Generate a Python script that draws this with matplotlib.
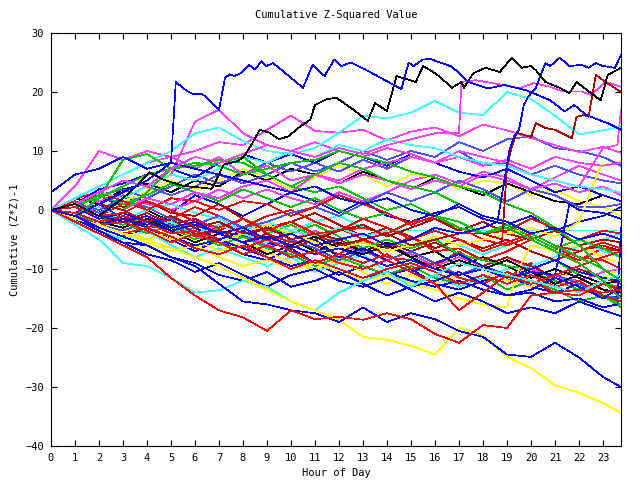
import matplotlib
matplotlib.use('Agg')
import matplotlib.pyplot as plt

# hourly samples, last one is the final quarter hour
hours = list(range(24)) + [23.75]

RED = '#ff0000'
GREEN = '#00c000'
BLUE = '#0000ff'
MAG = '#ff40ff'
CYAN = '#40ffff'
DRED = '#b00000'
YEL = '#ffff00'
BLK = '#000000'
LBLUE = '#5050ff'

# outliers, read at a finer time step
blue_top_t = [0, 1, 2, 3, 4, 5, 5.2, 5.65, 5.9, 6.3, 7.0, 7.25, 7.45, 7.65, 7.9, 8.25, 8.5, 8.76, 8.97,
              9.25, 9.5, 10.5, 10.9, 11.4, 11.8, 12.1, 12.5, 13.1, 13.6, 14.6, 14.9, 15.1, 15.5, 15.8,
              16.7, 17.4, 18.2, 18.9, 19.8, 20.8, 21.4, 21.8, 22.3, 23.2, 23.75]
blue_top = [0, -1, 1, 3, 5, 8, 21.7, 20.2, 19.7, 19.7, 17, 22.4, 23, 22.7, 23.2, 24.6, 23.8, 25.2, 24.4,
            24.9, 24.1, 20.7, 24.6, 22.7, 25.5, 24.4, 25, 23.8, 22.7, 20.5, 25, 24.4, 25.5, 25.6,
            24.3, 21.7, 20.6, 21.2, 20.3, 18.6, 16.7, 17.8, 16.1, 14.7, 13.6]
black_top_t = [0, 1, 2, 3, 3.6, 4.1, 4.7, 5.5, 6.7, 7.2, 7.8, 8.07, 8.4, 8.7, 9.1, 9.5, 9.9, 10.3, 10.8,
               11.0, 11.5, 11.9, 12.6, 13.2, 13.5, 14.0, 14.4, 15.2, 15.5, 15.8, 16.2, 16.7, 17.1, 17.2,
               17.6, 18.1, 18.7, 19.2, 19.6, 20.0, 20.2, 20.6, 21.2, 21.6, 21.9, 22.5, 22.9, 23.2, 23.75]
black_top = [0, 1, -1, 2, 4.2, 6.4, 5.1, 4.1, 3.6, 7.7, 8.3, 9.2, 11.4, 13.6, 13.1, 12, 12.5, 13.9, 15.3,
             17.8, 18.8, 19, 17, 15.1, 18.1, 16.8, 22.7, 21.7, 24.4, 23.7, 22.6, 20.7, 21.7, 20.7,
             23.2, 24.1, 23.4, 25.8, 24.1, 24.4, 23.7, 21.7, 20.7, 19.8, 21.7, 19.8, 18.6, 22.9, 24.1]
blue_rise_t = list(range(19)) + [18.6, 19.1, 19.3, 19.5, 19.7, 19.9, 20.2, 20.6, 20.8, 21.2, 21.6,
                                 22.1, 22.4, 22.7, 23.0, 23.5, 23.75]
blue_rise = [0, 1, -1, -2, -1, -3, -2, -4, -3, -5, -4, -6, -5, -4, -6, -5, -3, -4, -3,
             -2, 10.2, 12.5, 13.6, 17.8, 19.3, 20.7, 24.9, 24.4, 25.8, 24.4, 24.6, 24.1, 24.9, 24.4,
             24.1, 26.3]
dred_rise_t = list(range(19)) + [18.8, 19.0, 19.2, 19.4, 20, 20.2, 20.6, 21, 21.7, 21.9, 22.2, 22.4,
                                 22.7, 23.1, 23.75]
dred_rise = [0, -1, 1, 0, -2, -1, -3, -2, -4, -3, -5, -4, -6, -5, -4, -6, -5, -4, -4,
             -5, 7.3, 10.7, 13.1, 12.4, 14.7, 13.9, 13.6, 12.2, 15.8, 16.1, 15.8, 22.9, 21.7, 20]
mag_jump_t = list(range(17)) + [17.0, 17.1, 17.7, 18.8, 19.5, 20.1, 20.8, 21.3, 22.1, 22.5, 23.1, 23.75]
mag_jump = [0, 1, 3, 5, 4, 7, 9, 8, 9.5, 11, 10, 9, 10.5, 9.5, 11, 12, 13,
            13, 21.7, 22, 21.2, 20.6, 21.5, 20.9, 20.1, 20.1, 19.5, 21.7, 20.9]
yel_2_t = list(range(23)) + [22.9, 23.2, 23.75]
yel_2 = [0, -1, -2.5, -2, -3.5, -5, -4, -5.5, -4, -2.5, -4, -5.5, -6.5, -5.5, -7, -6, -4.5, -6, -5, -4,
         -3, -4.5, -2, 7.5, 7.8, 8.3]
mag_edge_t = list(range(24)) + [23.6, 23.75]
mag_edge = [0, -1, 1, 0, 2, 1, 3, 2, 4, 5, 3, 6, 5, 7, 8, 9, 8, 10, 9, 8, 6, 5, 4, 10.5, 11, 17]
blue_4_t = list(range(24)) + [23.6, 23.75]
blue_4 = [0, -1, -2.5, -1.5, -3, -4.5, -6, -5, -6.5, -8, -9.5, -8.5, -10, -11.5, -10.5, -12, -13, -12,
          -13.5, -14.5, -14, -15.5, -15, -16.5, -16, -3]
blue_5_t = list(range(22)) + [21.6, 22, 23, 23.75]
blue_5 = [0, 0.5, -1.5, -0.5, -2, -3.5, -2.5, -4, -5.5, -4.5, -6, -7.5, -6.5, -8, -9.5, -8.5, -10, -11,
          -10, -11.5, -10.5, -11, 1, 0, -0.5, -1.5]
yel_3_t = list(range(20)) + [19.2, 19.6, 20, 21, 22, 23, 23.75]
yel_3 = [0, -1.5, -2.5, -4, -5.5, -7, -6, -8, -9.5, -8.5, -10, -9, -10.5, -12, -11, -12.5, -13.5, -15,
         -16, -16.5, -13.6, -9, -6, -7, -6, -8, -9]

cyan_top = [0, 2, 4, 6, 8, 10, 13, 14, 11.7, 10, 9.5, 10.5, 13.1, 16, 15.5, 16.5, 18.5, 16.5, 16.1, 20, 18.8, 16, 12.8, 13.5, 14.1]
cyan_mid = [0, 1, 3, 2, 4, 6, 5, 7, 9, 8, 10, 9, 11, 10, 12, 11, 10.5, 9, 8, 7.5, 6, 5, 4, 3.5, 3]
mag_high = [0, 2, 4, 6, 8, 9, 10, 11.5, 11, 13.6, 16, 13.4, 13.1, 13.6, 11.8, 13.3, 14, 12.5, 14.5, 13.5, 12.2, 11, 9.8, 10.7, 9.7]
mag_early = [0, 4, 10, 8.5, 10, 9, 7, 9, 6, 7.5, 5, 6, 4.5, 6, 5, 3.5, 5, 4, 6, 5, 3.5, 4.5, 3, 4, 2.5]
mag_peak = [0, 1, 3, 2, 4, 6, 15, 17, 13, 11, 10, 11.5, 10, 9, 10.5, 9.5, 8, 9, 7.5, 8.5, 7, 9, 8, 7.5, 8]
green_a = [0, -1, 2, 8.5, 9.5, 7, 7.5, 8.5, 8, 6, 4, 6, 8, 7, 5, 4, 3, 1, -1, -2, -4, -6, -8, -10, -12]
green_b = [0, 1, 2, 4, 6, 7, 8, 7.5, 6, 7, 8, 8.5, 10, 9, 8, 6.5, 5.5, 4, 3, 1, -0.5, -3, -6, -10, -12]
green_c = [0, -1, 1, 0, 3, 7, 7.5, 8, 9, 6, 4, 3, 4, 2, 0, 1, -1, -2, -4, -3, -5, -7, -9, -12, -15]
blue_early = [3, 6, 7, 9, 7, 8, 7, 6, 5, 4, 3, 4, 2, 1, 2, 0, -1, 1, -1, -2, -4, -3, -5, -4, -5]
yellow_low = [0, -1.5, -2.5, -4, -5, -6.5, -8, -9.5, -11.5, -13.5, -15.5, -17, -18.6, -21.5, -22, -23, -24.5, -20, -21.2, -24.9, -26.8, -29.7, -31, -32.7, -34.4]
blue_low = [0, -1, -3, -4.5, -6, -8, -9.5, -12.5, -15.5, -16, -17, -17.5, -19, -16.5, -19, -17.5, -18.5, -20.5, -21.5, -24.5, -24.9, -22.5, -25, -28.3, -30]
red_low = [0, -2, -4, -6, -8, -11.5, -14.5, -17, -18.2, -20.5, -17, -18.5, -18.1, -18.6, -17.5, -18.5, -21, -22.5, -19.5, -20, -14.5, -14, -13.5, -14, -13.5]
cyan_low = [0, -2.5, -5, -9, -9.5, -11.5, -14, -13.6, -12, -13, -15.5, -17, -14, -12, -10.5, -13, -11, -9, -10, -11, -12, -13, -14, -12, -11]

# bundle
red_1 = [0, 1.5, -0.5, -2, -1, -3.5, -4, -2.5, -3, -5.5, -4, -6, -7.5, -5, -8, -8.5, -9.5, -7, -10, -11.5, -9, -12, -13.5, -12, -14]
red_2 = [0, -1, 0.5, -1.5, -3, -2.5, -4.5, -3.5, -1.5, -4, -5.5, -5, -3, -5, -6.5, -4.5, -7, -6.5, -8.5, -7, -5, -7, -8.5, -6.5, -7]
red_3 = [0, 0.5, -1, 1, 0.5, -1.5, 0.5, -1, -3, -1, 0, -2, -3.5, -3, -4, -2, -1.5, -3, -5, -6, -4.5, -6.5, -8, -8.5, -10]
red_4 = [0, -0.5, -2, -1, -2, -4, -3.5, -5, -6.5, -5, -7, -9, -7.5, -9, -7.5, -10, -9, -11.5, -12.5, -10.5, -12, -14, -14.5, -12.5, -13.5]
red_5 = [0, -1, -2.5, -4, -3, -4.5, -6.5, -7.5, -6, -8, -10, -8.5, -10, -11.5, -10, -9, -10.5, -12.5, -11, -12.5, -11, -13, -12, -14.5, -15.5]
red_6 = [0, 2, 3, 1.5, 0, 2, 1.5, 0, 1.5, 1, -1, 0.5, 2.5, 1, -0.5, -2.5, -1, -2, -4, -3.5, -1.5, -3, -5, -3.5, -4]
red_7 = [0, 0.5, -1, -0.5, 1.5, 0, -2, -3, -1.5, -3.5, -2, -4, -3.5, -1.5, -3, -5, -3.5, -5, -7, -5.5, -4, -6, -7, -5.5, -6.5]
red_8 = [0, -1, -2.5, -2, -3.5, -5.5, -4, -5.5, -7.5, -6, -8, -7, -9, -10, -8.5, -10.5, -12.5, -17, -14, -11, -12.5, -11, -9.5, -8, -7]
green_4 = [0, 0.5, -1, -2.5, -1, -3, -2.5, -3.5, -5.5, -4, -2.5, -4.5, -5.5, -7.5, -6, -8, -10, -8.5, -10, -12, -10.5, -12, -13.5, -14.5, -16]
green_5 = [0, -1, -2, -0.5, -2, -3, -5, -3, -1.5, -3, -4, -2.5, -4.5, -6.5, -5, -6.5, -5, -7.5, -8.5, -9.5, -10, -8.5, -11, -12.5, -13]
green_6 = [0, 1, -0.5, -2, -4, -2.5, -4, -6, -4.5, -6.5, -7.5, -9.5, -8, -9.5, -11, -9.5, -11.5, -12.5, -11, -13.5, -12, -13.5, -15.5, -14.5, -16.5]
green_7 = [0, 0.5, 2.5, 1, 2.5, 4.5, 3, 1.5, 3.5, 2, 0.5, 2, 0, -1.5, -0.5, -2.5, -1, -3, -4, -2.5, -4.5, -6.5, -5, -6.5, -8]
blue_1 = [0, -1.5, -3, -4.5, -3, -5, -7, -5, -7.5, -8.5, -6.5, -9, -11, -9.5, -11, -10, -12.5, -13.5, -12, -11, -13, -14, -12.5, -15, -14.5]
blue_2 = [0, 1, -0.5, 2, 1.5, -0.5, 2.5, 1, -1, 1, 3, 1.5, -0.5, 1.5, -1, -2, -0.5, 0.5, -1.5, -2.5, -1, -3.5, -2, -1, 0.5]
blue_3 = [0, -0.5, 1, -1.5, -2.5, -1, -3, -5, -3.5, -5.5, -6.5, -5, -8, -6.5, -8.5, -10.5, -9, -7.5, -9.5, -11.5, -10, -8.5, -10.5, -11.5, -12]
blue_6 = [0, -2, -4, -5.5, -7.5, -8.5, -10.5, -9, -11, -13, -11, -10, -12, -13, -11.5, -13.5, -15.5, -14, -15.5, -17.5, -16.5, -17.5, -15.5, -17, -18]
blue_7 = [0, -1.5, -3.5, -5.5, -6, -8, -9, -11, -12, -10.5, -13, -12, -10.5, -12.5, -14.5, -13, -12, -10.5, -12.5, -14.5, -13.5, -11.5, -13, -15, -13]
blue_8 = [0, 1, 3.5, 4.5, 6, 7, 5.5, 8, 9.5, 8, 9.5, 8, 10, 9, 7.5, 9.5, 8, 6.5, 5.5, 7, 5, 3, 4, 2.5, 1.5]
mag_5 = [0, -1, -2.5, -1, -3, -2, -4.5, -5.5, -4, -6, -5, -3.5, -5.5, -7.5, -6, -7.5, -9.5, -8, -9.5, -8, -10, -11.5, -12, -10.5, -10]
mag_6 = [0, -0.5, 1.5, 2.5, 1, 0, 1.5, 3.5, 2, 3.5, 2, 1, 3, 1.5, 3, 5, 6, 4.5, 6.5, 5.5, 3.5, 5.5, 7.5, 6, 5]
cyan_3 = [0, -1.5, -3.5, -5, -3.5, -6, -8, -6.5, -8, -9.5, -8, -10.5, -9, -7.5, -10.5, -12.5, -11, -13, -11.5, -10, -9.5, -8, -6, -5, -4]
cyan_flat = [0, -1, 0.5, -1.5, -3, -2, -4, -2.5, -4, -5.5, -3.5, -4.5, -3, -4.5, -3.5, -3.5, -3.5, -3.5, -3.5, -3.5, -3.5, -3.5, -3.5, -3.5, -3.5]
cyan_5 = [0, 1, -0.5, -1.5, 0, 1, -0.5, -1.5, -3.5, -2, -3.5, -2, -1, -3, -4, -6, -4.5, -6, -7.5, -6, -4.5, -6.5, -5, -7, -8]
dred_2 = [0, 0.5, -1, -2, -0.5, -2.5, -1.5, -3.5, -4.5, -3, -2, -4, -5, -7, -5.5, -7, -5.5, -7.5, -9.5, -8, -9.5, -11.5, -10, -11.5, -12.5]
dred_3 = [0, 1, 2.5, 0.5, 1.5, -0.5, -1, 1, -1.5, -3.5, -2, -0.5, -2.5, -4.5, -3, -4.5, -6.5, -5, -6.5, -5, -7, -8.5, -7, -6, -7]
dred_4 = [0, -1, -2.5, -1, -3, -1.5, -4, -3.5, -5.5, -4, -6.5, -5, -3.5, -2.5, -4.5, -3, -1.5, -3.5, -2, -4, -5, -3.5, -6, -5, -5.5]
yel_4 = [0, 1, 3, 1.5, 3, 5, 3.5, 5, 7, 5.5, 3.5, 5.5, 7.5, 6, 4, 6, 5.5, 3.5, 5, 4.5, 2.5, 3.5, 1.5, 0.5, -1]
yel_5 = [0, -0.5, -2, -3, -5, -3.5, -5, -7, -5.5, -7, -9, -10, -8.5, -10.5, -12.5, -11, -12.5, -11, -10, -12, -13, -11.5, -10.5, -11.5, -10]
black_2 = [0, -1, 0.5, -1.5, 0, -2, -4, -2.5, -4, -2.5, -5, -7, -5.5, -7, -5.5, -8, -7, -9.5, -8, -9.5, -11.5, -10, -11.5, -13.5, -14]
black_3 = [0, 2, 1, 3.5, 4.5, 3, 5, 4, 6.5, 5, 7, 6, 4.5, 6.5, 5, 3.5, 5.5, 4, 2.5, 4.5, 3, 1.5, 1, 2.5, 1.5]
black_4 = [0, -0.5, -2, -3, -1.5, -3.5, -5.5, -4, -5.5, -7.5, -6, -4.5, -6.5, -7.5, -6, -8, -10, -8.5, -10, -8.5, -10.5, -12.5, -11, -12.5, -12]
lblue_1 = [0, 0.5, 2.5, 3.5, 2, 4, 6, 4.5, 6, 8, 6.5, 8, 6.5, 8.5, 7, 9, 8, 10, 7.5, 8, 6, 7.5, 6, 5, 4.5]
lblue_2 = [0, -1, -2.5, -3.5, -2, -4, -3, -5.5, -4, -6.5, -5, -6.5, -8.5, -7, -8.5, -7, -9, -11, -9.5, -11, -12.5, -11, -12.5, -14.5, -15]
lblue_3 = [0, 1, -0.5, 1.5, 0.5, -1.5, -2.5, -1, -3, -2, -0.5, 0.5, -1, 1, 3, 1.5, 3, 5, 3.5, 1.5, 3.5, 2.5, 0.5, 0.5, 1]
lblue_4 = [0, 1, 0, 2, 4, 2.5, 4, 6, 4.5, 6, 8, 6.5, 8, 10, 8.5, 10, 9, 11.5, 10, 12, 12.5, 10.5, 10, 9, 7.5]

series = [
    (hours, red_1, RED), (hours, green_4, GREEN), (hours, blue_1, BLUE), (hours, mag_5, MAG),
    (hours, cyan_3, CYAN), (hours, dred_2, DRED), (hours, yel_5, YEL), (hours, black_2, BLK),
    (hours, lblue_2, LBLUE), (hours, red_2, RED), (hours, green_5, GREEN), (hours, blue_2, BLUE),
    (hours, mag_6, MAG), (hours, cyan_5, CYAN), (hours, dred_3, DRED), (hours, yel_4, YEL),
    (hours, black_3, BLK), (hours, lblue_1, LBLUE), (hours, red_3, RED), (hours, green_6, GREEN),
    (hours, blue_3, BLUE), (hours, cyan_flat, CYAN), (hours, dred_4, DRED), (yel_3_t, yel_3, YEL),
    (hours, black_4, BLK), (hours, lblue_3, LBLUE), (hours, red_4, RED), (hours, green_7, GREEN),
    (blue_4_t, blue_4, BLUE), (yel_2_t, yel_2, YEL), (hours, lblue_4, LBLUE), (hours, red_5, RED),
    (blue_5_t, blue_5, BLUE), (hours, red_6, RED), (hours, blue_6, BLUE), (hours, red_7, RED),
    (hours, blue_7, BLUE), (hours, red_8, RED), (hours, blue_8, BLUE),
    (hours, mag_high, MAG), (hours, mag_early, MAG), (hours, mag_peak, MAG),
    (mag_edge_t, mag_edge, MAG), (hours, cyan_mid, CYAN), (hours, cyan_top, CYAN),
    (hours, cyan_low, CYAN), (hours, green_a, GREEN), (hours, green_b, GREEN),
    (hours, green_c, GREEN), (hours, blue_early, BLUE), (hours, yellow_low, YEL),
    (hours, blue_low, BLUE), (hours, red_low, RED), (mag_jump_t, mag_jump, MAG),
    (dred_rise_t, dred_rise, DRED), (blue_rise_t, blue_rise, BLUE),
    (black_top_t, black_top, BLK), (blue_top_t, blue_top, BLUE),
]

plt.rcParams['font.family'] = 'DejaVu Sans Mono'
plt.rcParams['font.size'] = 7.5

fig = plt.figure(figsize=(6.4, 4.8), dpi=100)
ax = fig.add_axes([51 / 640, 34 / 480, 570 / 640, 413 / 480])

for t, vals, col in series:
    ax.plot(t, vals, color=col, lw=0.5, antialiased=False)

ax.set_xlim(0, 23.75)
ax.set_ylim(-40, 30)
ax.set_xticks(range(24))
ax.set_yticks(range(-40, 31, 10))
ax.tick_params(direction='in', length=4, width=0.8, top=True, right=True,
               labelsize=7.5, pad=5)
for sp in ax.spines.values():
    sp.set_linewidth(0.8)

ax.set_title('Cumulative Z-Squared Value', fontsize=7.5, pad=11)
ax.set_xlabel('Hour of Day', fontsize=7.5, labelpad=4)
ax.set_ylabel('Cumulative (Z*Z)-1', fontsize=7.5, labelpad=4)

plt.savefig('out.png', dpi=100)
